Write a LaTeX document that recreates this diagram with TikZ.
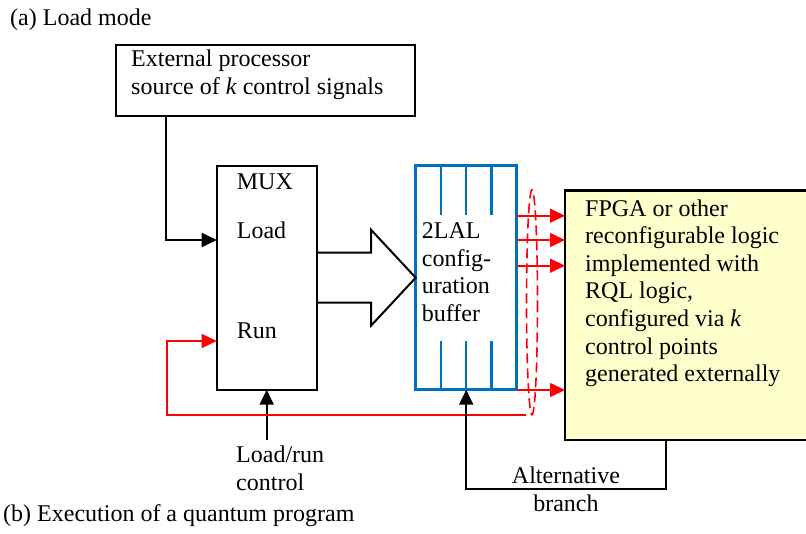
\documentclass[tikz,border=0pt]{standalone}
\usepackage{fontspec}
\setmainfont{Liberation Serif}
\usetikzlibrary{positioning, arrows.meta}

\definecolor{bufblue}{RGB}{0,112,192}
\definecolor{fpgayellow}{RGB}{255,255,204}

\begin{document}
\begin{tikzpicture}[x=1pt, y=-1pt, node distance=99pt,
		box/.style={draw, line width=2.2pt, inner sep=0pt, outer sep=0pt},
		txt/.style={inner sep=0pt, align=left, font=\fontsize{24}{27.6}\selectfont},
		sig/.style={line width=2pt, -{Triangle[length=15pt, width=14pt]}},
		redsig/.style={sig, red, line width=1.6pt}]
	\useasboundingbox (0,0) rectangle (806,533);
	
	\node[box, minimum width=299pt, minimum height=71pt, anchor=north west] (ext) at (116,45) {};
	\node[box, minimum width=100pt, minimum height=224pt, anchor=north west] (mux) at (216.7,165.7) {};
	\node[box, draw=bufblue, line width=2.6pt, minimum width=101pt, minimum height=224pt, right=of mux] (buf) {};
	\node[box, fill=fpgayellow, line width=2.6pt, minimum width=260pt, minimum height=249.3pt, below right=25pt and 48.3pt of buf.north east] (fpga) {};
	
	\node[txt, anchor=base west] (titlea) at (10,25) {(a) Load mode};
	\node[txt, anchor=base west] (titleb) at (3,521) {(b) Execution of a quantum program};
	\node[txt, below right=4.6pt and 15pt of ext.north west] (exttxt) {External processor\\source of \textit{k} control signals};
	\node[txt, anchor=base west] (muxlbl)  at ([shift={(20,23.3)}]mux.north west)  {MUX};
	\node[txt, anchor=base west] (loadlbl) at ([shift={(20,72.3)}]mux.north west)  {Load};
	\node[txt, anchor=base west] (runlbl)  at ([shift={(20,172.3)}]mux.north west) {Run};
	\node[txt, below right=57pt and 6pt of buf.north west] (buftxt) {2LAL\\config-\\uration\\buffer};
	\node[txt, below right=8.6pt and 20pt of fpga.north west] (fpgatxt) {FPGA or other\\reconfigurable logic\\implemented with\\RQL logic,\\configured via \textit{k}\\control points\\generated externally};
	\node[txt, inner ysep=6pt, below right=50pt and 19.3pt of mux.south west] (ctl) {Load/run\\control};
	
	\foreach \x in {25.25, 50.5, 75.75} {
		\draw[bufblue, line width=2.3pt] ([xshift=\x pt]buf.north west) -- ++(0,49.3);
		\draw[bufblue, line width=2.3pt] ([xshift=\x pt]buf.south west) -- ++(0,-48.3);
	}
	
	\draw[line width=2pt] ([yshift=25pt]mux.east) -- ++(54.3,0) -- ++(0,-23) -- (buf.west)
		-- ([shift={(-44.7,48)}]buf.west) -- ++(0,-23) -- ([yshift=-25pt]mux.east);
	
	\coordinate (drop)   at ([xshift=50pt]ext.south west);
	\coordinate (loadin) at ([yshift=-74.3pt]mux.north west);
	\coordinate (runin)  at ([yshift=-175.3pt]mux.north west);
	\coordinate (ring)   at ([shift={(15.3,24.6)}]buf.east);
	\coordinate (fb)     at ([shift={(-6,112.5)}]ring);
	\coordinate (alt)    at ([xshift=100.7pt]fpga.south west);
	\coordinate (altc)   at ([yshift=-49.3pt]alt);
	
	\draw[sig] (drop) |- (loadin);
	\draw[sig] (ctl.north -| mux.south) -- (mux.south);
	\foreach \dy [count=\i] in {50, 74.3, 100, 224.3} {
		\coordinate (out\i) at ([yshift=-\dy pt]buf.north east);
		\draw[redsig] (out\i) -- (out\i -| fpga.west);
	}
	\draw[red, line width=1.6pt, dash pattern=on 10pt off 5pt] (ring) ellipse [x radius=5.5, y radius=112.5];
	\draw[redsig] (fb) -| ([xshift=-50pt]runin) -- (runin);
	\draw[sig] (alt) -- (altc) -- node[txt, align=center] (altlbl) {Alternative\\branch} (altc -| buf.south) -- (buf.south);
\end{tikzpicture}
\end{document}
